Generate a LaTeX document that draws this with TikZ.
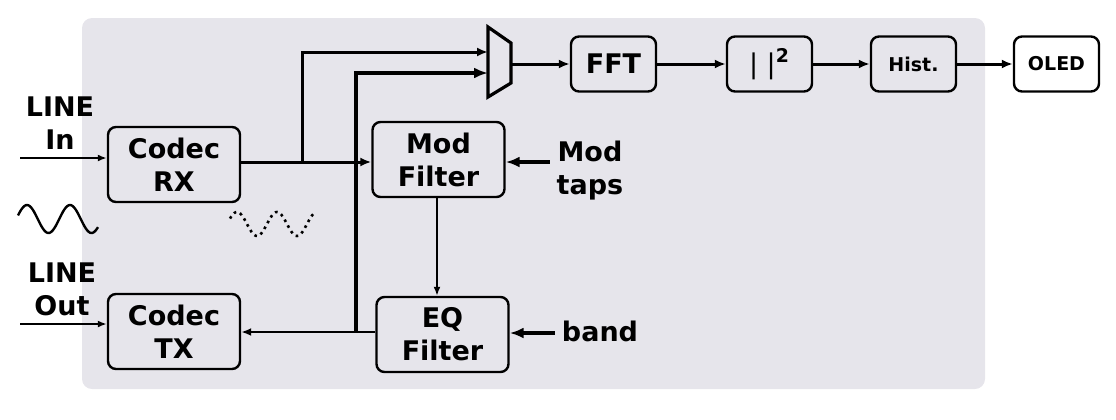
\documentclass[tikz,border=0pt]{standalone}
\usepackage{fontspec}
\setmainfont{DejaVu Sans}
\usetikzlibrary{arrows.meta}
\definecolor{panel}{RGB}{230,229,235}

\begin{document}
\begin{tikzpicture}[x=0.5pt,y=-0.5pt,
	blk/.style={draw,line width=1.2pt,rounded corners=4pt,fill=panel,minimum width=66pt,minimum height=37.5pt,align=center,font=\fontsize{13.5}{16.5}\selectfont\bfseries},
	sblk/.style={blk,minimum width=42.5pt,minimum height=27.5pt},
	lbl/.style={align=center,font=\fontsize{13.5}{16.5}\selectfont\bfseries},
	sig/.style={line width=1pt,-{Latex[length=4.5pt,width=3.5pt]}},
	mid/.style={line width=1.5pt,-{Latex[length=5.5pt,width=4.5pt]}},
	bus/.style={line width=2.2pt,-{Latex[length=7pt,width=5.5pt]}}]
			\useasboundingbox (0,0) rectangle (1116,419);
			\fill[panel,rounded corners=5pt] (82,18) rectangle (985,389);

			% blocks
			\node[blk] (rx) at (174,164.5) {Codec\\RX};
			\node[blk] (tx) at (174,331.5) {Codec\\TX};
			\node[blk] (mod) at (438.5,159.5) {Mod\\Filter};
			\node[blk] (eq) at (442.5,334.5) {EQ\\Filter};
			\node[sblk] (fft) at (613.5,64) {FFT};
			\node[sblk] (sq) at (769.5,64) {{\mdseries| |}\textsuperscript{2}};
			\node[sblk,font=\fontsize{9.5}{11}\selectfont\bfseries] (hist) at (913.5,64) {Hist.};
			\node[sblk,fill=white,font=\fontsize{9.5}{11}\selectfont\bfseries] (oled) at (1056.5,64) {OLED};

			% mux
			\draw[line width=1.6pt,line join=miter] (488,27) -- (511,43) -- (511,83) -- (488,97) -- cycle;
			\coordinate (muxA) at (488,52);
			\coordinate (muxB) at (488,73);
			\coordinate (muxO) at (511,64);

			% labels
			\node[lbl] (linein) at (60,123) {LINE\\In};
			\node[lbl] (lineout) at (62,289) {LINE\\Out};
			\node[lbl] (taps) at (590,171) {Mod\\taps};
			\node[lbl] (band) at (600,331) {band};

			% inputs
			\coordinate (in) at (20,158);
			\coordinate (out) at (20,324);
			\draw[sig] (in) -- (in -| rx.west);
			\draw[sig] (out) -- (out -| tx.west);

			% receive path
			\coordinate (j1) at (302,162);
			\draw[mid] (rx.east |- j1) -- (j1 -| mod.west);
			\draw[mid] (j1) |- (muxA);
			\draw[sig] (mod.south -| 437,0) -- (eq.north -| 437,0);

			% transmit path
			\coordinate (j2) at (356,332);
			\draw[line width=1.2pt,-{Latex[length=5pt,width=4pt]}] (eq.west |- j2) -- (j2 -| tx.east);
			\draw[bus] (j2) |- (muxB);

			% spectrum chain
			\draw[mid] (muxO) -- (fft.west);
			\draw[mid] (fft) -- (sq);
			\draw[mid] (sq) -- (hist);
			\draw[mid] (hist) -- (oled);

			% parameter inputs
			\draw[bus] (taps.west |- 0,162) -- (mod.east |- 0,162);
			\draw[bus] (band.west |- 0,333) -- (eq.east |- 0,333);

			% waves
			\draw[line width=1.2pt] plot[domain=18:98,samples=60,smooth] (\x,{219-14*sin(360/43*(\x-16.25))});
			\draw[line width=1.3pt,dotted] plot[domain=230:314,samples=60,smooth] (\x,{224-12*sin(9*(\x-227))});
\end{tikzpicture}
\end{document}
